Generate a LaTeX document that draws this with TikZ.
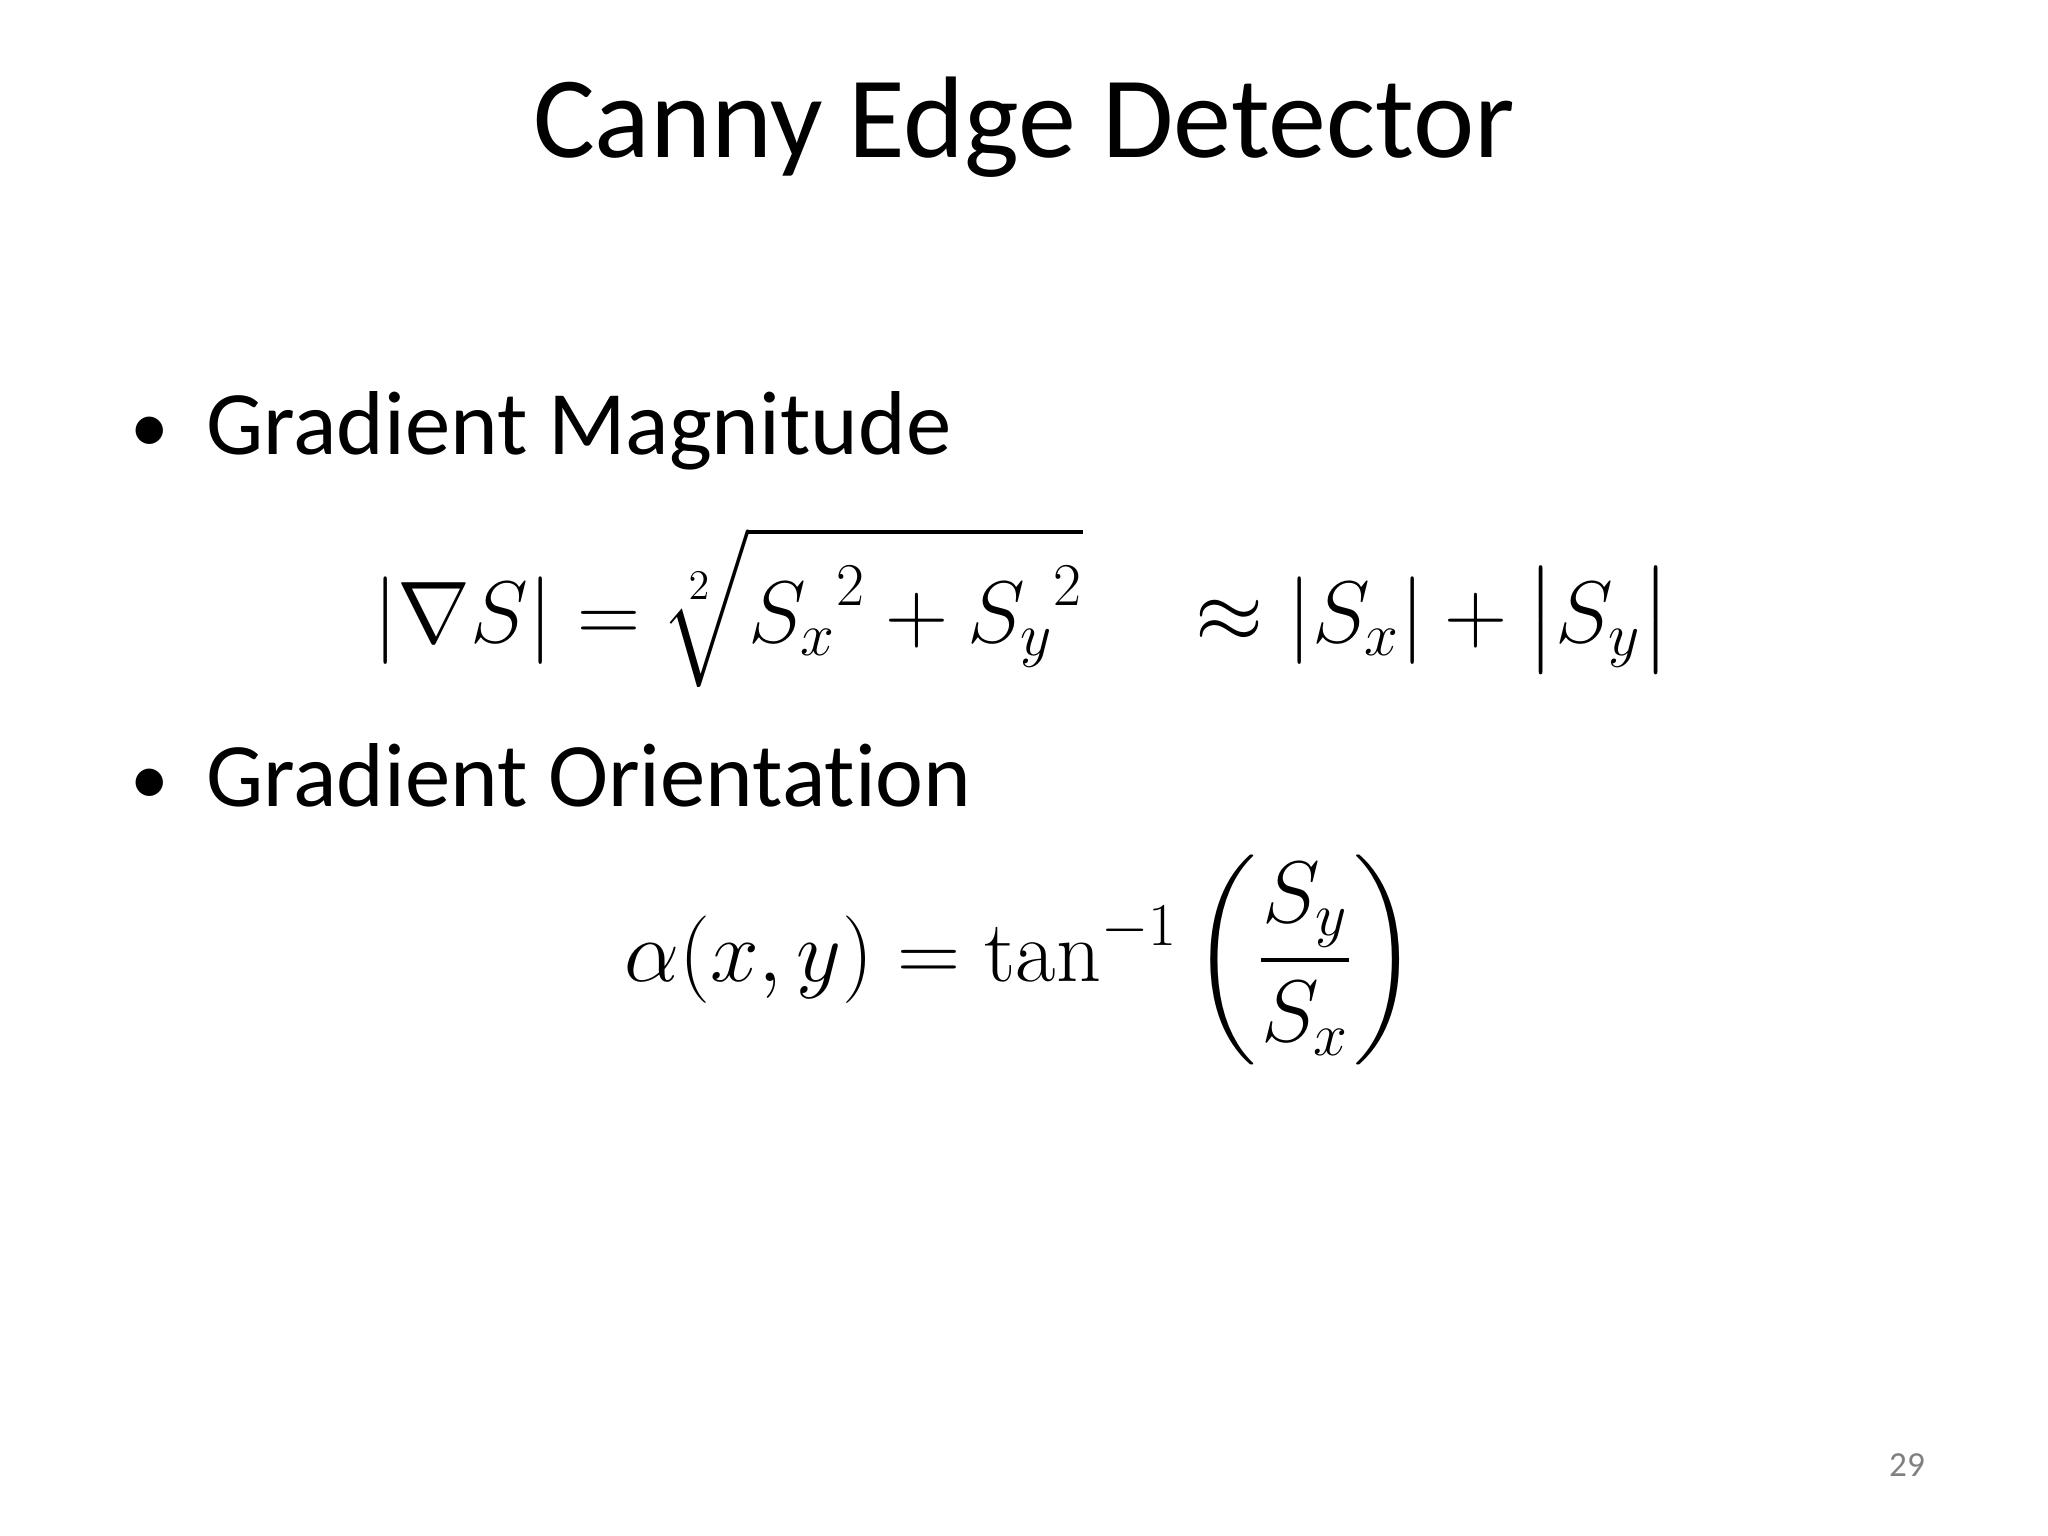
\documentclass[tikz,border=0pt]{standalone}
\usepackage{amsmath}
\usepackage{fontspec}
\setmainfont{Carlito}[Ligatures=NoCommon]
\setmathrm{Latin Modern Roman}
\begin{document}
\begin{tikzpicture}[x=0.01cm,y=-0.01cm]
\useasboundingbox[fill=white] (0,0) rectangle (2048,1536);
\tikzset{body/.style={anchor=base west,font=\fontsize{25.8}{30}\selectfont},
 eq/.style={font=\fontsize{25}{30}\selectfont}}
\node[font=\fontsize{33}{40}\selectfont] (title) at (1024,127) {Canny Edge Detector};
\node[body,font=\fontsize{22}{30}\selectfont] (d1) at (118,452) {\textbullet};
\node[body] (b1) at (194,454) {Gradient Magnitude};
\node[eq] (f1) at (1022,607) {$\displaystyle |\nabla S| = \sqrt[2]{{S_x}^2+{S_y}^2}\quad \approx |S_x|+\bigl|S_y\bigr|$};
\node[body,font=\fontsize{22}{30}\selectfont] (d2) at (118,804) {\textbullet};
\node[body] (b2) at (194,806) {Gradient Orientation};
\node[eq] (f2) at (1021,960) {$\displaystyle \alpha(x,y) = \tan^{-1}\left(\frac{S_y}{S_x}\right)$};
\node[font=\fontsize{10}{12}\selectfont,text=gray] (pg) at (1907,1465) {29};
\end{tikzpicture}
\end{document}
